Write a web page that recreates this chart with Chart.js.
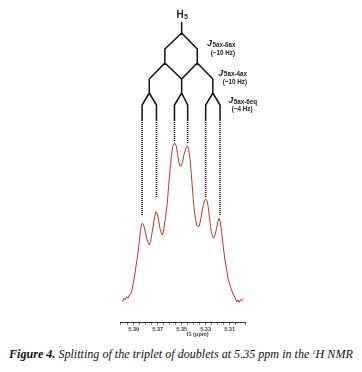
<!DOCTYPE html>
<html><head><meta charset="utf-8">
<script src="https://cdn.jsdelivr.net/npm/chart.js@4/dist/chart.umd.min.js"></script>
<style>
html,body{margin:0;padding:0;background:#fff;width:362px;height:372px;overflow:hidden;}
#wrap{position:absolute;left:0;top:0;width:362px;height:345px;}
#cap{position:absolute;left:9px;top:347px;font-family:"Liberation Serif","DejaVu Serif",serif;font-style:italic;font-size:12.1px;color:#111;white-space:nowrap;}
#cap b{font-weight:bold;}
</style></head><body>
<div id="wrap"><canvas id="c" width="362" height="345"></canvas></div>
<div id="cap"><b>Figure 4.</b> Splitting of the triplet of doublets at 5.35 ppm in the <sup style="font-size:6.5px;vertical-align:4px">1</sup>H NMR</div>
<script>
// spectrum (chemical shift, ppm) and intensity (arbitrary units)
const shiftPpm = [5.3992,5.3981,5.3970,5.3959,5.3947,5.3936,5.3925,5.3914,5.3903,5.3889,5.3875,5.3861,5.3853,5.3845,5.3836,5.3828,5.3817,5.3806,5.3792,5.3778,5.3770,5.3759,5.3748,5.3736,5.3725,5.3714,5.3703,5.3692,5.3681,5.3667,5.3659,5.3647,5.3634,5.3620,5.3609,5.3597,5.3586,5.3575,5.3564,5.3556,5.3545,5.3534,5.3525,5.3514,5.3503,5.3492,5.3481,5.3470,5.3459,5.3450,5.3442,5.3431,5.3420,5.3409,5.3398,5.3386,5.3375,5.3364,5.3353,5.3342,5.3331,5.3320,5.3309,5.3297,5.3286,5.3275,5.3264,5.3253,5.3242,5.3234,5.3222,5.3209,5.3198,5.3189,5.3178,5.3167,5.3153,5.3139,5.3125,5.3111,5.3097,5.3084,5.3070,5.3056,5.3042,5.3031,5.3020,5.3009,5.2997,5.2986];
const intensity = [20.3,23.7,22.0,25.3,23.7,27.0,28.0,32.0,38.7,48.7,60.3,72.0,80.3,90.3,97.0,98.7,97.0,92.0,83.7,78.7,77.0,80.3,88.7,97.0,105.3,110.3,108.0,102.0,93.7,88.0,87.0,93.7,105.3,118.7,135.3,152.0,165.3,175.3,178.0,178.7,176.0,168.7,160.3,156.0,156.0,160.3,167.0,172.0,175.3,176.0,172.7,163.7,148.7,132.0,115.3,103.7,97.0,95.3,96.0,102.0,110.3,117.0,121.3,122.7,120.3,112.0,100.3,90.3,85.3,83.7,87.0,93.7,100.3,103.7,100.3,90.3,75.3,62.0,52.0,42.0,37.0,32.0,28.0,24.7,20.3,22.0,19.7,22.7,21.3,23.3];
// splitting tree (ppm)
const rootPpm = 5.350;
const level1Ppm = [5.364, 5.337];
const level2Ppm = [5.377, 5.350, 5.324];
const linePpm = [5.383, 5.371, 5.356, 5.345, 5.330, 5.318];
const lineDashEnd = [107, 125, 180, 179, 125, 107];
const tickLabels = ['5.39','5.37','5.35','5.33','5.31'];
const couplings = [
  {sub:'5ax-6ax', hz:'(~10 Hz)'},
  {sub:'5ax-4ax', hz:'(~10 Hz)'},
  {sub:'5ax-6eq', hz:'(~4 Hz)'}
];

// tree levels (vertical layout in intensity units)
const Y = {rootTop:300, rootBot:289, l1:273, l1b:259, l2:243, l2b:229, l3:217, l3b:202};
const tree = [];
function seg(pts){ pts.forEach(p=>tree.push({x:p[0],y:p[1]})); tree.push({x:pts[pts.length-1][0],y:null}); }
seg([[rootPpm,Y.rootTop],[rootPpm,Y.rootBot]]);
level1Ppm.forEach(v=>seg([[rootPpm,Y.rootBot],[v,Y.l1],[v,Y.l1b]]));
[[0,0],[0,1],[1,1],[1,2]].forEach(([p,c])=>seg([[level1Ppm[p],Y.l1b],[level2Ppm[c],Y.l2]]));
level2Ppm.forEach(v=>seg([[v,Y.l2],[v,Y.l2b]]));
linePpm.forEach((v,i)=>seg([[level2Ppm[Math.floor(i/2)],Y.l2b],[v,Y.l3],[v,Y.l3b]]));
const dashed = [];
linePpm.forEach((v,i)=>{dashed.push({x:v,y:Y.l3b});dashed.push({x:v,y:lineDashEnd[i]});dashed.push({x:v,y:null});});

const spectrum = shiftPpm.map((x,i)=>({x, y:intensity[i]}));

const labelPlugin = {
  id:'labels',
  afterDatasetsDraw(chart){
    const ctx=chart.ctx, xs=chart.scales.x, ys=chart.scales.y;
    const X=v=>xs.getPixelForValue(v), Yp=v=>ys.getPixelForValue(v);
    ctx.save();
    ctx.fillStyle='#222';
    ctx.textBaseline='alphabetic';
    // H5
    const hx=X(rootPpm), hy=Yp(304);
    ctx.font='bold 10px "Liberation Sans", Arial, sans-serif';
    ctx.textAlign='right'; ctx.fillText('H',hx+2,hy);
    ctx.font='bold 6.5px "Liberation Sans", Arial, sans-serif';
    ctx.textAlign='left'; ctx.fillText('5',hx+2.5,hy+1);
    // coupling labels
    const anchors=[[5.3289,276,5.3156,267.5],[5.3194,246.5,5.3056,238.5],[5.3112,219,5.2996,211]];
    couplings.forEach((c,i)=>{
      const a=anchors[i];
      let x=X(a[0]), y=Yp(a[1]);
      ctx.textAlign='left';
      ctx.font='italic bold 9px "Liberation Sans", Arial, sans-serif';
      ctx.fillText('J',x,y);
      const w=ctx.measureText('J').width;
      ctx.font='bold 6.3px "Liberation Sans", Arial, sans-serif';
      ctx.fillText(c.sub,x+w+0.5,y+0.5);
      ctx.textAlign='center';
      ctx.font='bold 6.3px "Liberation Sans", Arial, sans-serif';
      ctx.fillText(c.hz,X(a[2]),Yp(a[3]));
    });
    // axis title
    ctx.font='bold 5.6px "Liberation Sans", Arial, sans-serif';
    ctx.fillStyle='#444';
    ctx.textAlign='center';
    ctx.fillText('f1 (ppm)',X(5.3367),chart.chartArea.bottom+14);
    ctx.restore();
  }
};

new Chart(document.getElementById('c'),{
  type:'line',
  data:{datasets:[
    {data:spectrum,borderColor:'#b23a3a',borderWidth:1,pointRadius:0,tension:0,fill:false},
    {data:tree,borderColor:'#111',borderWidth:1.5,pointRadius:0,tension:0,spanGaps:false,fill:false},
    {data:dashed,borderColor:'#111',borderWidth:1.6,borderDash:[1,1],pointRadius:0,tension:0,spanGaps:false,fill:false}
  ]},
  options:{
    responsive:false,animation:false,
    layout:{padding:{left:120,right:117,top:2,bottom:3}},
    plugins:{legend:{display:false},tooltip:{enabled:false}},
    scales:{
      x:{type:'linear',reverse:true,min:5.2972,max:5.4014,
        afterFit(s){s.height=20;},
        grid:{drawOnChartArea:false,drawTicks:true,tickLength:2.5,color:'#333',lineWidth:0.8},
        border:{display:true,color:'#333',width:1},
        ticks:{stepSize:0.005,autoSkip:false,maxRotation:0,padding:2,color:'#444',
          font:{size:5.6,weight:'bold',family:'"Liberation Sans", Arial, sans-serif'},
          callback(v){const m=Math.round(v*1000);const s=(m/1000).toFixed(2);return (m%20===10 && tickLabels.includes(s))?s:'';}}
      },
      y:{type:'linear',display:false,min:0,max:320}
    }
  },
  plugins:[labelPlugin]
});
</script>
</body></html>
